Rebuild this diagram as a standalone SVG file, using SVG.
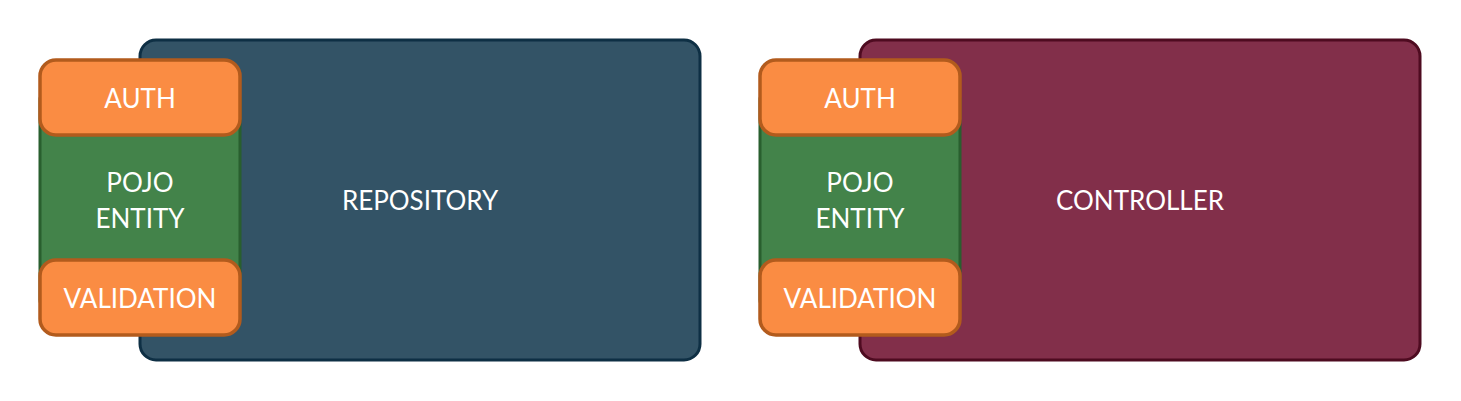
<svg xmlns="http://www.w3.org/2000/svg" width="1461" height="401" viewBox="0 0 1461 401">
<style>
.lbl{font-family:Lato,"Liberation Sans",sans-serif;font-size:26px;fill:#ffffff;text-anchor:middle;dominant-baseline:central}
.repo{fill:#335366;stroke:#0e2f44;stroke-width:3}
.ctrl{fill:#822f4a;stroke:#4e0b20;stroke-width:3}
.pojo{fill:#43834a;stroke:#295f2e;stroke-width:3}
.tag{fill:#fa8c43;stroke:#b25b1d;stroke-width:3.5}
</style>
<rect width="1461" height="401" fill="#ffffff"/>
<g id="repository">
<rect class="repo" x="140" y="40" width="560" height="320" rx="16"/>
<text class="lbl" x="420" y="200">REPOSITORY</text>
</g>
<g id="pojo-entity-1">
<rect class="pojo" x="40" y="90" width="200" height="220" rx="10"/>
<text class="lbl" x="140" y="182">POJO</text>
<text class="lbl" x="140" y="218">ENTITY</text>
</g>
<g id="auth-1">
<rect class="tag" x="40" y="60" width="200" height="75" rx="16"/>
<text class="lbl" x="140" y="98">AUTH</text>
</g>
<g id="validation-1">
<rect class="tag" x="40" y="260" width="200" height="75" rx="16"/>
<text class="lbl" x="140" y="298">VALIDATION</text>
</g>
<g id="controller">
<rect class="ctrl" x="860" y="40" width="560" height="320" rx="16"/>
<text class="lbl" x="1140" y="200">CONTROLLER</text>
</g>
<g id="pojo-entity-2">
<rect class="pojo" x="760" y="90" width="200" height="220" rx="10"/>
<text class="lbl" x="860" y="182">POJO</text>
<text class="lbl" x="860" y="218">ENTITY</text>
</g>
<g id="auth-2">
<rect class="tag" x="760" y="60" width="200" height="75" rx="16"/>
<text class="lbl" x="860" y="98">AUTH</text>
</g>
<g id="validation-2">
<rect class="tag" x="760" y="260" width="200" height="75" rx="16"/>
<text class="lbl" x="860" y="298">VALIDATION</text>
</g>
<g id="connectors"/>
</svg>
